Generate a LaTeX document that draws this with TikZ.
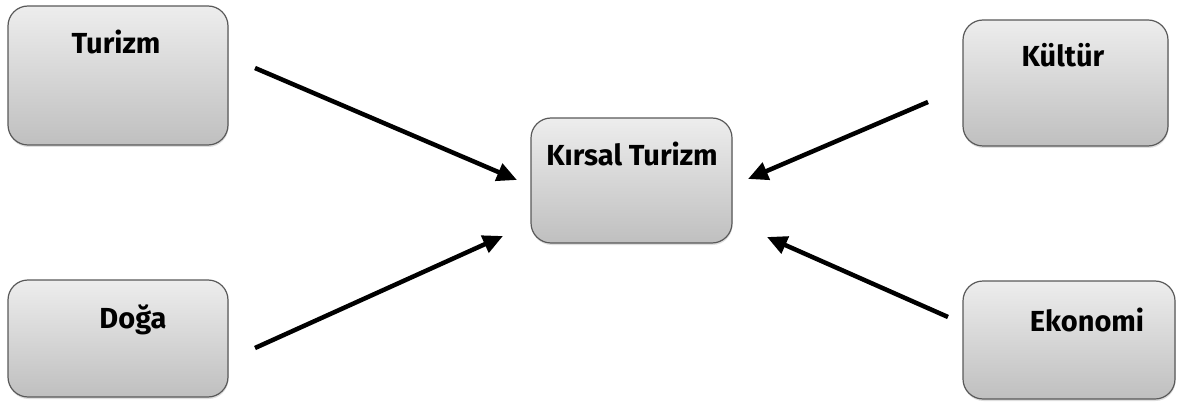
\documentclass[tikz,border=0pt]{standalone}
\usepackage{fontspec}
\setmainfont{Fira Sans}
\usetikzlibrary{arrows.meta,shadows}
\tikzset{
  box/.style={draw=black!65, line width=1.2pt, rounded corners=20pt,
    top color=black!7, bottom color=black!25, inner sep=0pt,
    drop shadow={opacity=0.25, shadow xshift=0.5pt, shadow yshift=-2pt}},
  lbl/.style={font=\fontsize{29}{33}\selectfont\bfseries, anchor=base, inner sep=0pt},
  conn/.style={line width=4.5pt, -{Triangle[length=20pt,width=18pt]}}
}
\begin{document}
\begin{tikzpicture}[x=1pt,y=-1pt]
\useasboundingbox (0,0) rectangle (1180,406);
% boxes
\node[box, minimum width=220pt, minimum height=139pt] (turizm) at (118,75.5) {};
\node[box, minimum width=201pt, minimum height=125pt] (kirsal) at (631.5,180.5) {};
\node[box, minimum width=205pt, minimum height=126pt] (kultur) at (1065.5,83) {};
\node[box, minimum width=220pt, minimum height=117pt] (doga) at (118,338.5) {};
\node[box, minimum width=212pt, minimum height=118pt] (ekonomi) at (1069,340) {};
% labels
\node[lbl] (tTurizm) at (116,54) {Turizm};
\node[lbl] (tKirsal) at (632,166) {Kırsal Turizm};
\node[lbl] (tKultur) at (1063,67) {Kültür};
\node[lbl] (tDoga) at (133,328) {Doğa};
\node[lbl] (tEkonomi) at (1087,331) {Ekonomi};
% connector end points
\coordinate (a1s) at (255,68);   \coordinate (a1e) at (517,180);
\coordinate (a2s) at (255,348);  \coordinate (a2e) at (503,236);
\coordinate (a3s) at (928,102);  \coordinate (a3e) at (748,179);
\coordinate (a4s) at (948,317);  \coordinate (a4e) at (767,237);
\draw[conn] (a1s) -- (a1e);
\draw[conn] (a2s) -- (a2e);
\draw[conn] (a3s) -- (a3e);
\draw[conn] (a4s) -- (a4e);
\end{tikzpicture}
\end{document}
